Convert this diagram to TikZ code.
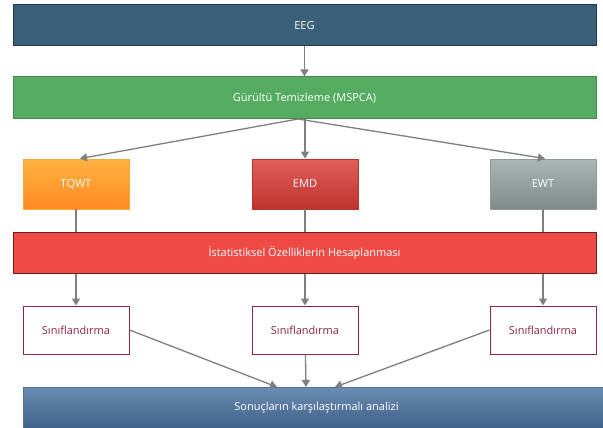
\documentclass[tikz,border=0pt]{standalone}
\usepackage{fontspec}
\setmainfont{Open Sans}
\usepackage{xcolor}
\usetikzlibrary{positioning,arrows.meta}

\definecolor{eegfill}{HTML}{3A5F78}
\definecolor{eegline}{HTML}{1F3A4E}
\definecolor{cleanfill}{HTML}{55AB5F}
\definecolor{cleanline}{HTML}{3E8A47}
\definecolor{tqwttop}{HTML}{FFB240}
\definecolor{tqwtbot}{HTML}{FF8A22}
\definecolor{tqwtline}{HTML}{FFA53A}
\definecolor{emdtop}{HTML}{DF605A}
\definecolor{emdbot}{HTML}{C0322E}
\definecolor{emdline}{HTML}{B83430}
\definecolor{ewttop}{HTML}{ABB6B6}
\definecolor{ewtbot}{HTML}{7E8B8A}
\definecolor{ewtline}{HTML}{8F9A9A}
\definecolor{featfill}{HTML}{EE4B46}
\definecolor{featline}{HTML}{6E1E1E}
\definecolor{clsline}{HTML}{8E2448}
\definecolor{restop}{HTML}{6B8DB3}
\definecolor{resbot}{HTML}{3E6088}
\definecolor{resline}{HTML}{4E709A}
\definecolor{linkgray}{HTML}{7F7F7F}

\begin{document}
\begin{tikzpicture}[x=1pt, y=-1pt,
wide/.style={draw, line width=1pt, align=center, inner sep=0pt, minimum width=583pt, minimum height=41pt, text=white, font=\fontsize{11}{13}\selectfont},
method/.style={draw, line width=0.8pt, align=center, inner sep=0pt, minimum width=106pt, minimum height=50pt, text=white, font=\fontsize{11}{13}\selectfont},
clsbox/.style={draw=clsline, line width=1pt, fill=white, align=center, inner sep=0pt, minimum width=106pt, minimum height=48pt, text=clsline, font=\fontsize{11}{13}\selectfont},
arr/.style={-{Triangle[width=8pt,length=7pt]}, line width=1.3pt, draw=linkgray},
link/.style={line width=1.3pt, draw=linkgray}
]
\clip (0,0) rectangle (603,428);
\fill[white] (0,0) rectangle (603,428);

\node[wide, fill=eegfill, draw=eegline] (eeg) at (304.5,25.5) {EEG};
\node[wide, fill=cleanfill, draw=cleanline, minimum height=42pt] (clean) at (304.5,98) {Gürültü Temizleme (MSPCA)};

\node[method, draw=tqwtline, top color=tqwttop, bottom color=tqwtbot] (tqwt) at (76,184) {TQWT};
\node[method, draw=emdline, top color=emdtop, bottom color=emdbot] (emd) at (305,184) {EMD};
\node[method, draw=ewtline, top color=ewttop, bottom color=ewtbot] (ewt) at (543,184) {EWT};

\node[wide, fill=featfill, draw=featline] (feat) at (304.5,252.5) {İstatistiksel Özelliklerin Hesaplanması};

\node[clsbox] (cls1) at (76,330) {Sınıflandırma};
\node[clsbox] (cls2) at (305,330) {Sınıflandırma};
\node[clsbox] (cls3) at (543,330) {Sınıflandırma};

\node[wide, draw=resline, top color=restop, bottom color=resbot, minimum width=587pt, minimum height=42pt] (result) at (316.5,408) {Sonuçların karşılaştırmalı analizi};

\coordinate (fan) at (298,119);
\coordinate (hub) at (306,387);

\draw[arr] (eeg) -- (clean);
\draw[arr] (fan) -- ([xshift=4pt]tqwt.north);
\draw[arr] (clean.south -| emd.north) -- (emd.north);
\draw[arr] (fan) -- ([xshift=2pt]ewt.north);
\draw[link] (tqwt) -- (tqwt |- feat.north);
\draw[link] (emd) -- (emd |- feat.north);
\draw[link] (ewt) -- (ewt |- feat.north);
\draw[arr] (tqwt |- feat.south) -- (cls1);
\draw[arr] (emd |- feat.south) -- (cls2);
\draw[arr] (ewt |- feat.south) -- (cls3);
\draw[arr] (cls1.east) -- ([xshift=-29pt]hub);
\draw[arr] (cls2) -- (hub);
\draw[arr] (cls3.west) -- ([xshift=29pt]hub);
\end{tikzpicture}
\end{document}
